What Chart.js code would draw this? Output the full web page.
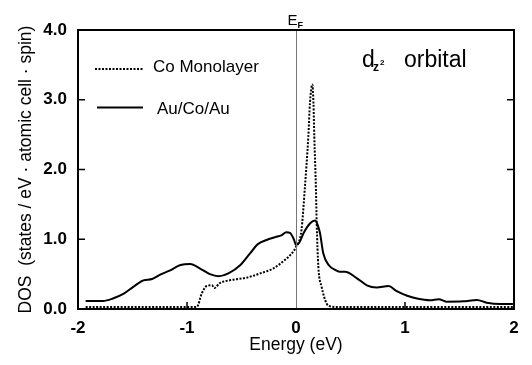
<!DOCTYPE html>
<html>
<head>
<meta charset="utf-8">
<script src="https://cdn.jsdelivr.net/npm/chart.js@4.4.1/dist/chart.umd.min.js"></script>
<style>
html,body{margin:0;padding:0;background:#fff;}
#wrap{width:532px;height:365px;position:relative;}
</style>
</head>
<body>
<div id="wrap"><canvas id="c" width="532" height="365"></canvas></div>
<script>
// ---- data ----
const seriesNames = ["Co Monolayer", "Au/Co/Au"];
const energyCo = [-1.93,-0.91,-0.865,-0.82,-0.77,-0.75,-0.70,-0.575,-0.45,-0.33,-0.21,-0.12,-0.055,0.0,0.05,0.08,0.113,0.128,0.15,0.16,0.168,0.183,0.19,0.205,0.235,0.28,0.31,0.35,1.99];
const dosCo    = [0.03,0.03,0.22,0.33,0.34,0.30,0.37,0.42,0.45,0.51,0.58,0.68,0.77,0.89,1.13,1.71,2.47,2.95,3.22,2.95,2.47,1.71,1.23,0.61,0.32,0.08,0.04,0.03,0.03];
const energyAu = [-1.93,-1.77,-1.68,-1.58,-1.49,-1.40,-1.32,-1.25,-1.16,-1.06,-0.97,-0.88,-0.79,-0.71,-0.62,-0.51,-0.42,-0.35,-0.27,-0.19,-0.13,-0.09,-0.055,-0.02,0.0,0.03,0.07,0.13,0.175,0.20,0.22,0.25,0.30,0.36,0.40,0.45,0.56,0.65,0.74,0.85,0.92,1.02,1.11,1.23,1.31,1.38,1.535,1.66,1.75,1.87,1.99];
const dosAu    = [0.115,0.115,0.15,0.22,0.32,0.41,0.43,0.49,0.55,0.63,0.645,0.58,0.50,0.47,0.51,0.63,0.80,0.93,0.99,1.03,1.06,1.10,1.09,1.0,0.92,0.95,1.09,1.23,1.27,1.2,1.09,0.80,0.63,0.56,0.535,0.535,0.44,0.34,0.31,0.33,0.26,0.19,0.15,0.125,0.14,0.105,0.11,0.13,0.09,0.07,0.07];
const xTickValues = [-2,-1,0,1,2];
const yTickValues = [0,1,2,3,4];
const yTickLabels = ["0.0","1.0","2.0","3.0","4.0"];
const xTitle = "Energy (eV)";
const yTitle = "DOS  (states / eV \u00B7 atomic cell \u00B7 spin)";

const FONT = "'Liberation Sans', Arial, Helvetica, sans-serif";

function toPoints(xs, ys){ return xs.map((x,i)=>({x:x, y:ys[i]})); }

const decor = {
  id: 'decor',
  afterDraw(chart){
    const ctx = chart.ctx, a = chart.chartArea;
    const xs = chart.scales.x, ys = chart.scales.y;
    ctx.save();
    // E_F line
    const x0 = Math.round(xs.getPixelForValue(0)) + 0.5;
    ctx.strokeStyle = '#777'; ctx.lineWidth = 1;
    ctx.beginPath(); ctx.moveTo(x0, a.top); ctx.lineTo(x0, a.bottom); ctx.stroke();
    // frame
    ctx.strokeStyle = '#000'; ctx.lineWidth = 2;
    ctx.strokeRect(a.left, a.top, a.right - a.left, a.bottom - a.top);
    // inward ticks
    ctx.lineWidth = 1.5;
    [1,2,3].forEach(v=>{
      const y = ys.getPixelForValue(v);
      ctx.beginPath(); ctx.moveTo(a.left, y); ctx.lineTo(a.left + 7, y); ctx.stroke();
      ctx.beginPath(); ctx.moveTo(a.right, y); ctx.lineTo(a.right - 7, y); ctx.stroke();
    });
    [-1,1].forEach(v=>{
      const x = xs.getPixelForValue(v);
      ctx.beginPath(); ctx.moveTo(x, a.bottom); ctx.lineTo(x, a.bottom - 7); ctx.stroke();
    });
    // E_F label
    ctx.fillStyle = '#000';
    ctx.textBaseline = 'alphabetic';
    ctx.textAlign = 'left';
    ctx.font = '15px ' + FONT;
    ctx.fillText('E', x0 - 9, 25);
    ctx.font = 'bold 9px ' + FONT;
    ctx.fillText('F', x0 + 1, 28);
    // legend
    const ds = chart.data.datasets;
    ctx.font = '17px ' + FONT;
    ctx.lineWidth = 2;
    ctx.setLineDash([2,1.5]);
    ctx.beginPath(); ctx.moveTo(95, 69); ctx.lineTo(143, 69); ctx.stroke();
    ctx.setLineDash([]);
    ctx.fillText(ds[0].label, 153, 72);
    ctx.beginPath(); ctx.moveTo(97, 107.5); ctx.lineTo(143, 107.5); ctx.stroke();
    ctx.fillText(ds[1].label, 157, 114);
    // d_z2 orbital
    ctx.font = '23px ' + FONT;
    ctx.fillText('d', 362, 67);
    ctx.font = 'bold 12px ' + FONT;
    ctx.fillText('z', 373, 71);
    ctx.font = 'bold 8px ' + FONT;
    ctx.fillText('2', 380, 65);
    ctx.font = '23px ' + FONT;
    ctx.fillText('orbital', 404, 67);
    ctx.restore();
  }
};

new Chart(document.getElementById('c'), {
  type: 'line',
  data: {
    datasets: [
      { label: seriesNames[0], data: toPoints(energyCo, dosCo), borderColor: '#000', borderWidth: 2,
        borderDash: [2,1.5], pointRadius: 0, fill: false, cubicInterpolationMode: 'monotone' },
      { label: seriesNames[1], data: toPoints(energyAu, dosAu), borderColor: '#000', borderWidth: 2,
        pointRadius: 0, fill: false, cubicInterpolationMode: 'monotone' }
    ]
  },
  options: {
    responsive: false,
    animation: false,
    devicePixelRatio: 1,
    layout: { padding: { top: 30, right: 18, left: 0, bottom: 0 } },
    plugins: { legend: { display: false }, tooltip: { enabled: false } },
    scales: {
      x: {
        type: 'linear', min: -2, max: 2,
        grid: { display: false, drawTicks: false },
        border: { display: false },
        afterBuildTicks: s => { s.ticks = xTickValues.map(v => ({ value: v })); },
        afterFit: s => { s.height = 56; },
        ticks: { color: '#000', font: { family: FONT, size: 17, weight: 'bold' }, padding: 9, maxRotation: 0,
          callback: v => String(v) },
        title: { display: true, text: xTitle, color: '#000', font: { family: FONT, size: 17.5 }, padding: { top: 0, bottom: 9 } }
      },
      y: {
        type: 'linear', min: 0, max: 4,
        grid: { display: false, drawTicks: false },
        border: { display: false },
        afterBuildTicks: s => { s.ticks = yTickValues.map(v => ({ value: v })); },
        afterFit: s => { s.width = 78; },
        ticks: { color: '#000', font: { family: FONT, size: 17, weight: 'bold' }, padding: 11,
          callback: (v) => yTickLabels[yTickValues.indexOf(v)] },
        title: { display: true, text: yTitle, color: '#000', font: { family: FONT, size: 17.5 }, padding: { top: 16, bottom: 0 } }
      }
    }
  },
  plugins: [decor]
});
</script>
</body>
</html>
